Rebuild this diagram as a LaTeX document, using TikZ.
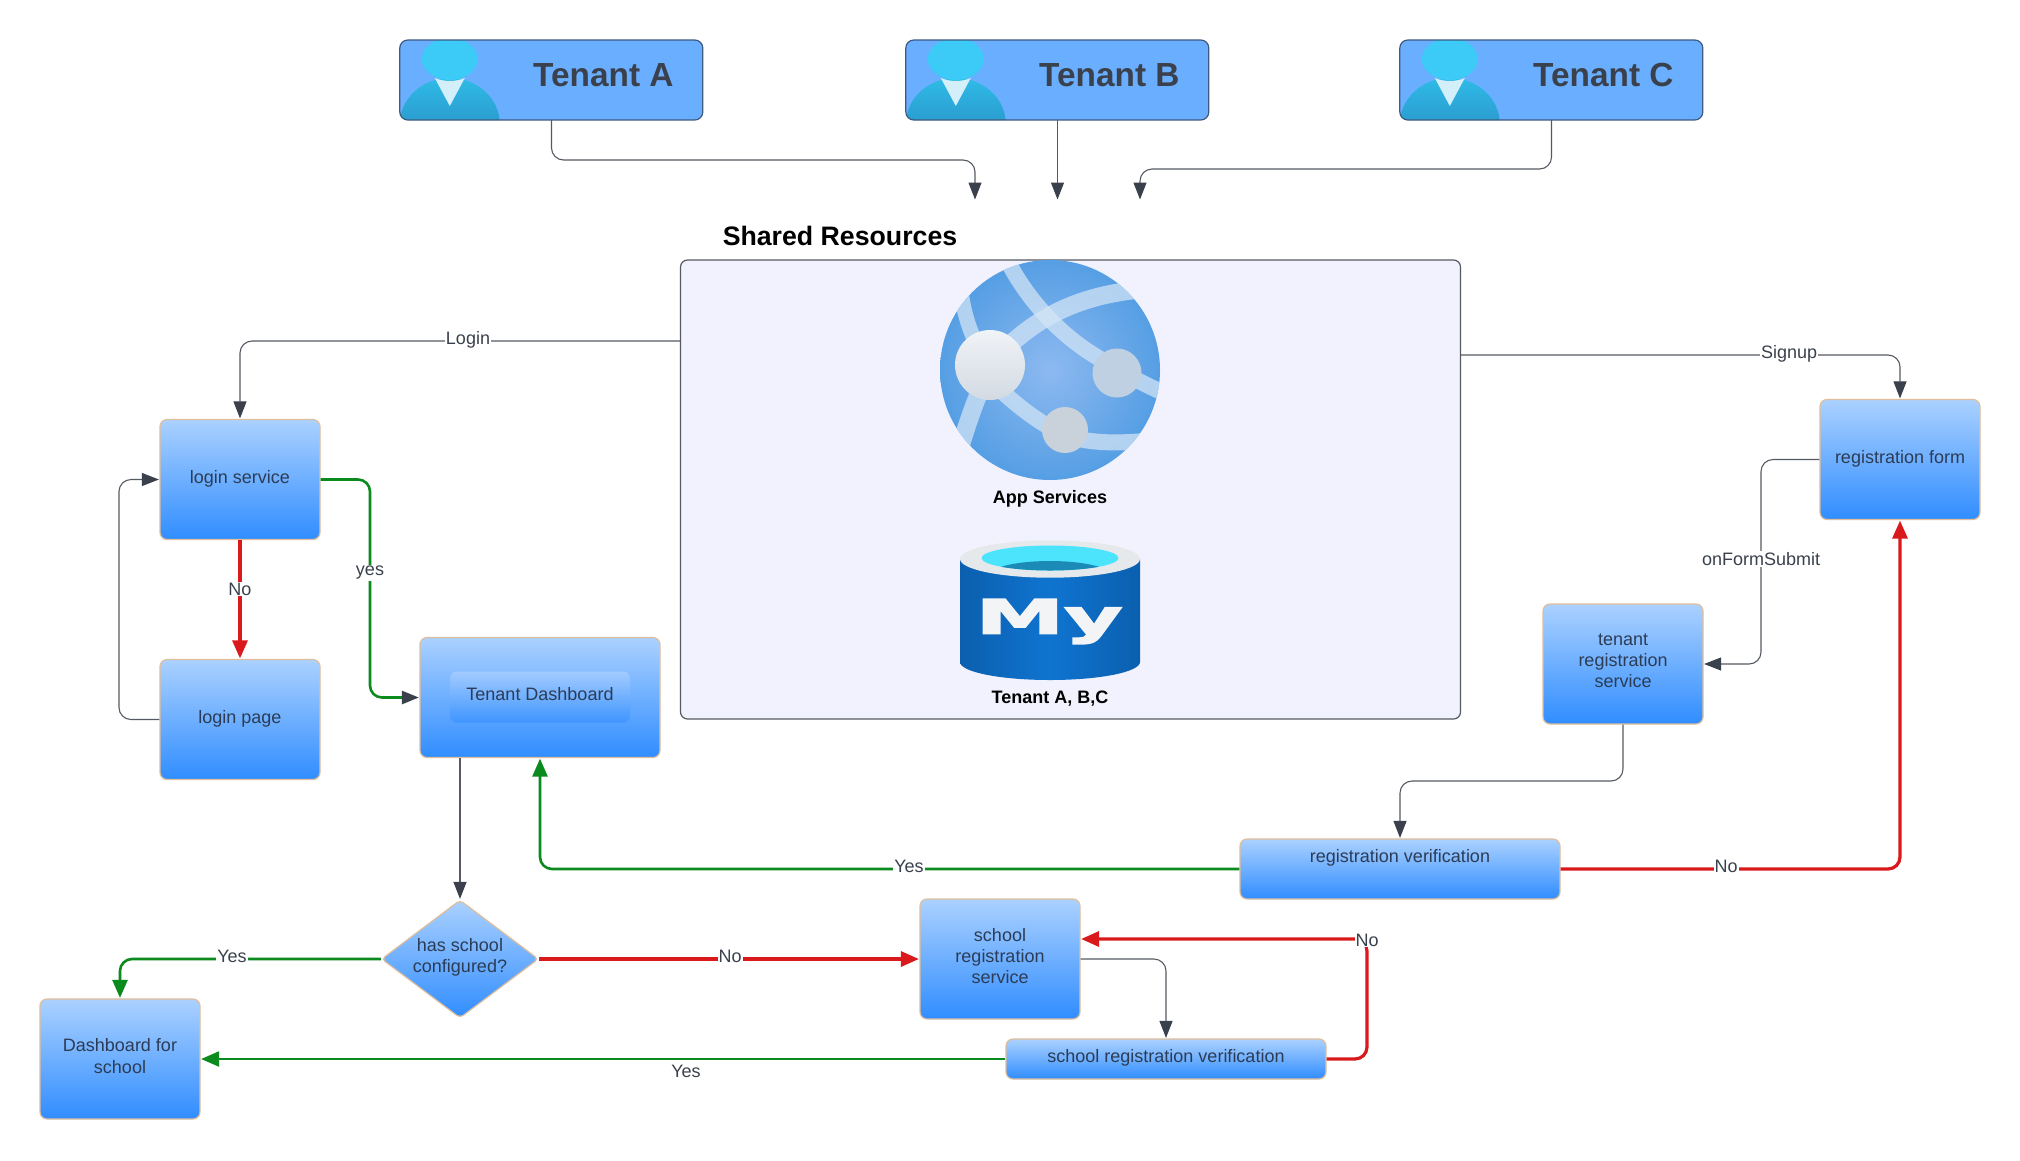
\documentclass[tikz,border=0pt]{standalone}
\usepackage{fontspec}
\setmainfont{Liberation Sans}
\newfontfamily\myfont[FakeBold=4,FakeStretch=1.9]{DejaVu Sans Bold}
\usetikzlibrary{arrows.meta,shapes.geometric}
\newcommand\liftup{\\[-15pt]\mbox{}}
\newcommand\liftone[1]{\raisebox{-3.8pt}[0pt][0pt]{#1}}
\definecolor{gline}{HTML}{555A62}
\definecolor{gtip}{HTML}{3A414C}
\definecolor{redl}{HTML}{D9191C}
\definecolor{greenl}{HTML}{0B8A1E}
\definecolor{boxtop}{HTML}{ABD1FF}
\definecolor{boxbot}{HTML}{308DFF}
\definecolor{boxedge}{HTML}{E0BE9C}
\definecolor{txt}{HTML}{2C3C55}
\definecolor{lab}{HTML}{3A414C}
\definecolor{tenantfill}{HTML}{6AAEFF}
\definecolor{tenantedge}{HTML}{3D5A80}
\definecolor{personhead}{HTML}{3CCBF6}
\definecolor{personv}{HTML}{D3EFFA}
\definecolor{bodytop}{HTML}{2FBBE6}
\definecolor{bodybot}{HTML}{2A9BCE}
\definecolor{panel}{HTML}{F1F2FD}
\definecolor{band}{HTML}{D5E6F6}
\definecolor{nodeb}{HTML}{BFD0E2}
\definecolor{nodec}{HTML}{C9D1DA}
\definecolor{nodeatop}{HTML}{F0F3F7}
\definecolor{nodeabot}{HTML}{D3DAE2}
\definecolor{globein}{HTML}{8DB9F0}
\definecolor{globeout}{HTML}{4E9BE2}
\definecolor{dbring}{HTML}{E6E9EB}
\definecolor{dbcyan}{HTML}{4BE4FC}
\definecolor{dbdark}{HTML}{1B8AB6}
\definecolor{dbedge}{HTML}{0B5FAE}
\definecolor{dbmid}{HTML}{0F74D0}
\definecolor{mywhite}{HTML}{F2F4F6}
\definecolor{intop}{HTML}{A2CBFF}
\definecolor{inbot}{HTML}{3F95FF}
\tikzset{
  x=1pt,y=-1pt,
  flowbox/.style={rectangle,rounded corners=7pt,draw=boxedge,line width=1.2pt,top color=boxtop,bottom color=boxbot,
    text=txt,align=center,inner sep=0pt,font=\fontsize{18}{21.3}\selectfont},
  tenantbox/.style={rectangle,rounded corners=8pt,draw=none,fill=none,minimum width=303pt,minimum height=80pt,inner sep=0pt},
  tenanttext/.style={text=lab,inner sep=0pt,font=\bfseries\fontsize{33.4}{36}\selectfont},
  boldcap/.style={text=black,inner sep=0pt,anchor=base,font=\bfseries\fontsize{18}{21}\selectfont},
  edgelab/.style={fill=white,text=lab,inner sep=1pt,font=\fontsize{18}{21}\selectfont},
  conn/.style={draw=gline,line width=1.1pt,rounded corners=12pt,shorten >=0.5pt,-{Triangle[length=17pt,width=13pt,color=gtip]}},
  yesconn/.style={draw=greenl,line width=2.6pt,rounded corners=12pt,shorten >=0.5pt,-{Triangle[length=18pt,width=15pt,color=greenl]}},
  noconn/.style={draw=redl,line width=3.2pt,rounded corners=12pt,shorten >=0.5pt,-{Triangle[length=18pt,width=15pt,color=redl]}},
  personicon/.pic={
    \begin{scope}
      \clip[rounded corners=8pt] (0,-40) rectangle (303,40);
      \fill[tenantfill] (0,-40) rectangle (303,40);
      \shade[top color=bodytop,bottom color=bodybot] (100,40) -- (100,44) arc[start angle=0,end angle=180,x radius=50,y radius=-46] -- cycle;
      \fill[personhead] (50,-21) ellipse[x radius=28,y radius=21];
      \fill[personv] (35,-2) .. controls (45,2) and (55,2) .. (65,-2) -- (50,26) -- cycle;
    \end{scope}
    \draw[draw=tenantedge,line width=1.2pt,rounded corners=8pt] (0,-40) rectangle (303,40);
  }
}
\begin{document}
\begin{tikzpicture}
\useasboundingbox (0,0) rectangle (2020,1160);
\fill[white] (0,0) rectangle (2020,1160);

% tenants
\node[tenantbox] (ta) at (551.5,80) {};
\node[tenantbox] (tb) at (1057.5,80) {};
\node[tenantbox] (tc) at (1551.5,80) {};
\pic at (ta.west) {personicon};
\pic at (tb.west) {personicon};
\pic at (tc.west) {personicon};
\node[tenanttext] (tat) at (603.4,75) {Tenant A};
\node[tenanttext] (tbt) at (1109.4,75) {Tenant B};
\node[tenanttext] (tct) at (1603.4,75) {Tenant C};

% shared
\node[inner sep=0pt,anchor=base,text=black,font=\bfseries\fontsize{26.7}{30}\selectfont] (sr) at (840,245) {Shared Resources};
\node[rectangle,rounded corners=7pt,draw=gline,line width=1.2pt,fill=panel,minimum width=780pt,minimum height=459pt,inner sep=0pt] (box) at (1070.5,489.5) {};

% globe
\begin{scope}
  \clip (1050,370) circle[radius=110];
  \shade[inner color=globein,outer color=globeout] (1050,370) circle[radius=125];
  \begin{scope}[draw=band,draw opacity=.72,line cap=butt]
    \draw[line width=16pt] (998,240) .. controls (1020,295) and (1060,335) .. (1097,357) .. controls (1120,372) and (1145,385) .. (1175,398);
    \draw[line width=18pt] (990,365) .. controls (1030,320) and (1080,288) .. (1175,288);
    \draw[line width=15pt] (960,280) .. controls (962,310) and (970,335) .. (985,360);
    \draw[line width=18pt] (985,380) .. controls (975,400) and (965,430) .. (955,465);
    \draw[line width=16pt] (990,380) .. controls (1020,410) and (1050,430) .. (1070,437) .. controls (1100,445) and (1130,443) .. (1175,438);
  \end{scope}
\end{scope}
\shade[top color=nodeatop,bottom color=nodeabot] (990,365) circle[radius=35];
\fill[nodeb] (1117,373) circle[radius=24.5];
\fill[nodec] (1065,430) circle[radius=23];
\node[boldcap] (app) at (1050,503) {App Services};

% database
\shade[left color=dbedge,right color=dbedge,middle color=dbmid]
  (960,559) -- (960,662) arc[start angle=180,end angle=360,x radius=90,y radius=-18] -- (1140,559) -- cycle;
\fill[dbring] (1050,559) ellipse[x radius=90,y radius=18.7];
\begin{scope}
  \clip (1050,558) ellipse[x radius=68.5,y radius=12.5];
  \fill[dbcyan] (970,540) rectangle (1130,575);
  \fill[dbdark] (1050,576) ellipse[x radius=62,y radius=15];
\end{scope}
\node[inner sep=0pt,anchor=base,text=mywhite,font=\myfont\fontsize{47}{47}\selectfont] (my) at (1049,633.5) {My};
\node[boldcap] (dbl) at (1050,703) {Tenant A, B,C};

% flow boxes
\node[flowbox,minimum width=160pt,minimum height=120pt] (ls) at (240,479.5) {\liftone{login service}};
\node[flowbox,minimum width=160pt,minimum height=120pt] (lp) at (240,719.5) {\liftone{login page}};
\node[flowbox,minimum width=240pt,minimum height=120pt] (dash) at (540,697.5) {};
\node[rectangle,rounded corners=7pt,top color=intop,bottom color=inbot,text=txt,inner sep=0pt,minimum width=180pt,minimum height=51pt,font=\fontsize{18}{21}\selectfont] (dashin) at (540,697) {\liftone{Tenant Dashboard}};
\node[flowbox,minimum width=160pt,minimum height=120pt] (rf) at (1900,459.5) {\liftone{registration form}};
\node[flowbox,minimum width=160pt,minimum height=120pt] (trs) at (1623,664) {tenant\\registration\\service\liftup};
\node[flowbox,minimum width=320pt,minimum height=60pt] (rv) at (1400,869) {\raisebox{6.6pt}[0pt][0pt]{registration verification}};
\node[flowbox,minimum width=160pt,minimum height=120pt] (srs) at (1000,959) {school\\registration\\service\liftup};
\node[flowbox,minimum width=320pt,minimum height=40pt] (sv) at (1166,1059) {\liftone{school registration verification}};
\node[flowbox,minimum width=160pt,minimum height=120pt] (dfs) at (120,1059) {Dashboard for\\school\liftup};
\node[flowbox,diamond,rounded corners=4pt,minimum width=157pt,minimum height=118pt] (d) at (460,959) {};
\node[text=txt,align=center,inner sep=0pt,font=\fontsize{18}{21.3}\selectfont] (dt) at (460,957.5) {has school\\configured?};

% way points
\coordinate (ea) at (975,200);
\coordinate (eb) at (1057.5,200);
\coordinate (ec) at (1140,200);
\coordinate (wa) at (975,160);
\coordinate (wc) at (1551.5,169);
\coordinate (wl) at (240,341);
\coordinate (ws) at (1900,355);
\coordinate (wy) at (370,479.5);
\coordinate (wy2) at (370,697.5);
\coordinate (wp) at (119,719.5);
\coordinate (wp2) at (119,479.5);
\coordinate (wf) at (1761,459.5);
\coordinate (wf2) at (1761,664);
\coordinate (wt) at (1400,781);
\coordinate (wg) at (1166,959);
\coordinate (wn) at (1367,1059);
\coordinate (wn2) at (1367,939);

% connectors
\draw[conn] (ta.south) |- (wa) -- (ea);
\draw[conn] (tb.south) -- (eb);
\draw[conn] (tc.south) |- (ec |- wc) -- (ec);
\draw[conn] (box.west |- wl) -- (wl) -- (ls.north);
\draw[conn] (box.east |- ws) -- (ws) -- (rf.north);
\draw[noconn] (ls.south) -- (lp.north);
\draw[conn] (lp.west) -- (wp) -- (wp2) -- (ls.west);
\draw[conn,draw=greenl,line width=2.6pt] (ls.east) -- (wy) -- (wy2) -- (dash.west);
\draw[conn] (d.north |- dash.south) -- (d.north);
\draw[yesconn] (rv.west) -| (dash.south);
\draw[noconn] (rv.east) -| (rf.south);
\draw[conn] (rf.west) -- (wf) -- (wf2) -- (trs.east);
\draw[conn] (trs.south) |- (wt) -- (rv.north);
\draw[yesconn] (d.west) -| (dfs.north);
\draw[noconn] (d.east) -- (srs.west);
\draw[conn] (srs.east) -- (wg) -- (sv.north);
\draw[yesconn,line width=2.2pt] (sv.west) -- (dfs.east);
\draw[noconn] (sv.east) -- (wn) -- (wn2) -- (srs.east |- wn2);

% labels
\node[edgelab] (l1) at (468,340) {Login};
\node[edgelab] (l2) at (1789,354) {Signup};
\node[edgelab] (l3) at (240,589) {No};
\node[edgelab] (l4) at (370,573) {yes};
\node[edgelab] (l5) at (1761,559) {onFormSubmit};
\node[edgelab] (l6) at (909,866) {Yes};
\node[edgelab] (l7) at (1726,866) {No};
\node[edgelab] (l8) at (232,956) {Yes};
\node[edgelab] (l9) at (730,956) {No};
\node[edgelab] (l10) at (1367,940) {No};
\node[edgelab] (l11) at (686,1071) {Yes};
\end{tikzpicture}
\end{document}
